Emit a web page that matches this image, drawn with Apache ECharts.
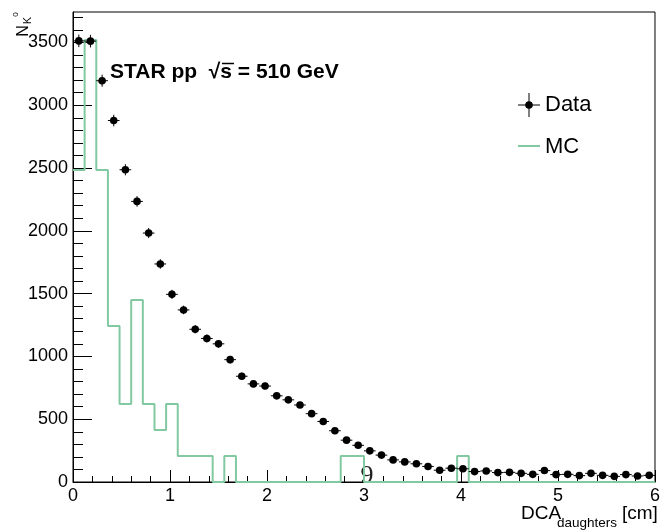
<!DOCTYPE html>
<html>
<head>
<meta charset="utf-8">
<script src="https://cdn.jsdelivr.net/npm/echarts@6/dist/echarts.min.js"></script>
<style>
  html, body { margin: 0; padding: 0; background: #fff; }
  #chart { width: 663px; height: 532px; }
</style>
</head>
<body>
<div id="chart"></div>
<script>
// binning: 50 bins of 0.12 cm from 0 to 6
const binWidth = 0.12
const nBins = 50

// data counts per bin
const dataCounts = [3512, 3510, 3195, 2878, 2486, 2234, 1982, 1736, 1494, 1370,
  1216, 1143, 1100, 974, 842, 781, 764, 686, 654, 613,
  544, 482, 408, 333, 292, 248, 214, 176, 160, 145,
  124, 94, 110, 105, 83, 88, 75, 77, 69, 61,
  91, 59, 61, 51, 69, 53, 45, 59, 48, 53]
const dataErrors = [50, 50, 48, 46, 44, 42, 40, 38, 36, 34,
  33, 32, 31, 30, 28, 27, 27, 25, 25, 24,
  22, 21, 19, 17, 16, 15, 14, 12, 12, 11,
  10, 9, 9, 9, 8, 8, 8, 8, 7, 7,
  9, 7, 7, 6, 7, 6, 6, 7, 6, 6]

// MC histogram (scaled)
const mcCounts = [2484, 3519, 2484, 1242, 621, 1449, 621, 414, 621, 207,
  207, 207, 0, 207, 0, 0, 0, 0, 0, 0,
  0, 0, 0, 207, 207, 0, 0, 0, 0, 0,
  0, 0, 0, 207, 0, 0, 0, 0, 0, 0,
  0, 0, 0, 0, 0, 0, 0, 0, 0, 0]

const xTicks = [0, 1, 2, 3, 4, 5, 6]
const yTicks = [0, 500, 1000, 1500, 2000, 2500, 3000, 3500]
const yMax = 3742

const font = '"Liberation Sans", Arial, Helvetica, sans-serif'
const mcColor = '#82c9a2'

const yMinor = []
for (let v = 100; v < yMax; v += 100) {
  if (v % 500 !== 0) yMinor.push(v)
}

const dataPoints = dataCounts.map((v, i) => [binWidth * (i + 0.5), v, dataErrors[i]])
const mcPoints = mcCounts.map((v, i) => [binWidth * i, v])
mcPoints.push([binWidth * nBins, mcCounts[nBins - 1]])

const chart = echarts.init(document.getElementById('chart'), null, { renderer: 'canvas' })

chart.setOption({
  animation: false,
  backgroundColor: '#fff',
  grid: {
    left: 73, right: 4, top: 12, bottom: 50,
    show: true, borderColor: '#000', borderWidth: 1, backgroundColor: 'transparent'
  },
  xAxis: {
    type: 'value', min: 0, max: 6,
    axisLine: { show: true, onZero: false, lineStyle: { color: '#000', width: 1 } },
    axisTick: { show: true, inside: true, length: 12, customValues: xTicks, lineStyle: { color: '#000' } },
    minorTick: { show: true, splitNumber: 5, length: 6, lineStyle: { color: '#000' } },
    splitLine: { show: false },
    axisLabel: { color: '#000', fontSize: 18, fontFamily: font, margin: 5, customValues: xTicks, formatter: v => String(v) }
  },
  yAxis: [{
    type: 'value', min: 0, max: yMax,
    axisLine: { show: true, lineStyle: { color: '#000', width: 1 } },
    axisTick: { show: true, inside: true, length: 19, customValues: yTicks, lineStyle: { color: '#000' } },
    splitLine: { show: false },
    axisLabel: { color: '#000', fontSize: 18, fontFamily: font, margin: 5, customValues: yTicks, formatter: v => String(v) }
  }, {
    type: 'value', min: 0, max: yMax, position: 'left',
    axisLine: { show: false },
    axisTick: { show: true, inside: true, length: 10, customValues: yMinor, lineStyle: { color: '#000' } },
    splitLine: { show: false },
    axisLabel: { show: false }
  }],
  series: [
    {
      name: 'MC',
      type: 'line',
      step: 'end',
      data: mcPoints,
      symbol: 'none',
      clip: false,
      lineStyle: { color: mcColor, width: 2 },
      z: 3
    },
    {
      name: 'Data',
      type: 'custom',
      data: dataPoints,
      z: 4,
      renderItem: function (params, api) {
        const x = api.value(0), y = api.value(1), e = api.value(2)
        const c = api.coord([x, y])
        const l = api.coord([x - binWidth / 2, y])
        const r = api.coord([x + binWidth / 2, y])
        const t = api.coord([x, y + e])
        const b = api.coord([x, y - e])
        return {
          type: 'group',
          children: [
            { type: 'line', shape: { x1: l[0], y1: l[1], x2: r[0], y2: r[1] }, style: { stroke: '#000', lineWidth: 1 } },
            { type: 'line', shape: { x1: t[0], y1: t[1], x2: b[0], y2: b[1] }, style: { stroke: '#000', lineWidth: 1 } },
            { type: 'circle', shape: { cx: c[0], cy: c[1], r: 3.8 }, style: { fill: '#000' } }
          ]
        }
      }
    }
  ],
  graphic: [
    // title
    { type: 'text', left: 110, top: 62, style: { text: 'STAR pp  √s = 510 GeV', fontFamily: font, fontWeight: 'bold', fontSize: 21, fill: '#000' } },
    { type: 'line', shape: { x1: 222, y1: 63.5, x2: 234, y2: 63.5 }, style: { stroke: '#000', lineWidth: 1.5 } },
    // legend: Data
    { type: 'line', shape: { x1: 518, y1: 105, x2: 540, y2: 105 }, style: { stroke: '#000', lineWidth: 1 } },
    { type: 'line', shape: { x1: 529, y1: 93, x2: 529, y2: 117 }, style: { stroke: '#000', lineWidth: 1 } },
    { type: 'circle', shape: { cx: 529, cy: 105, r: 3.8 }, style: { fill: '#000' } },
    { type: 'text', x: 545, y: 105, style: { text: 'Data', fontFamily: font, fontSize: 22, fill: '#000', verticalAlign: 'middle' } },
    // legend: MC
    { type: 'line', shape: { x1: 518, y1: 146, x2: 540, y2: 146 }, style: { stroke: mcColor, lineWidth: 2 } },
    { type: 'text', x: 545, y: 147, style: { text: 'MC', fontFamily: font, fontSize: 22, fill: '#000', verticalAlign: 'middle' } },
    // x axis title
    { type: 'text', x: 521, y: 514, style: { text: 'DCA', fontFamily: font, fontSize: 19, fill: '#000', verticalAlign: 'middle' } },
    { type: 'text', x: 557, y: 523, style: { text: 'daughters', fontFamily: font, fontSize: 13.5, fill: '#000', verticalAlign: 'middle' } },
    { type: 'text', x: 622, y: 514, style: { text: '[cm]', fontFamily: font, fontSize: 19, fill: '#000', verticalAlign: 'middle' } },
    // y axis title N_{K^0}, rotated
    { type: 'text', x: 24, y: 31, rotation: Math.PI / 2, style: { text: 'N', fontFamily: font, fontSize: 16, fill: '#000', align: 'center', verticalAlign: 'middle' } },
    { type: 'text', x: 28, y: 20.5, rotation: Math.PI / 2, style: { text: 'K', fontFamily: font, fontSize: 11, fill: '#000', align: 'center', verticalAlign: 'middle' } },
    { type: 'text', x: 16, y: 14.5, rotation: Math.PI / 2, style: { text: '0', fontFamily: font, fontSize: 8, fill: '#000', align: 'center', verticalAlign: 'middle' } },
    // stray glyph near x = 3
    { type: 'text', x: 367, y: 476, style: { text: '9', fontFamily: '"Liberation Serif", "DejaVu Serif", serif', fontSize: 26, fill: '#222', align: 'center', verticalAlign: 'middle' } }
  ]
})
</script>
</body>
</html>
